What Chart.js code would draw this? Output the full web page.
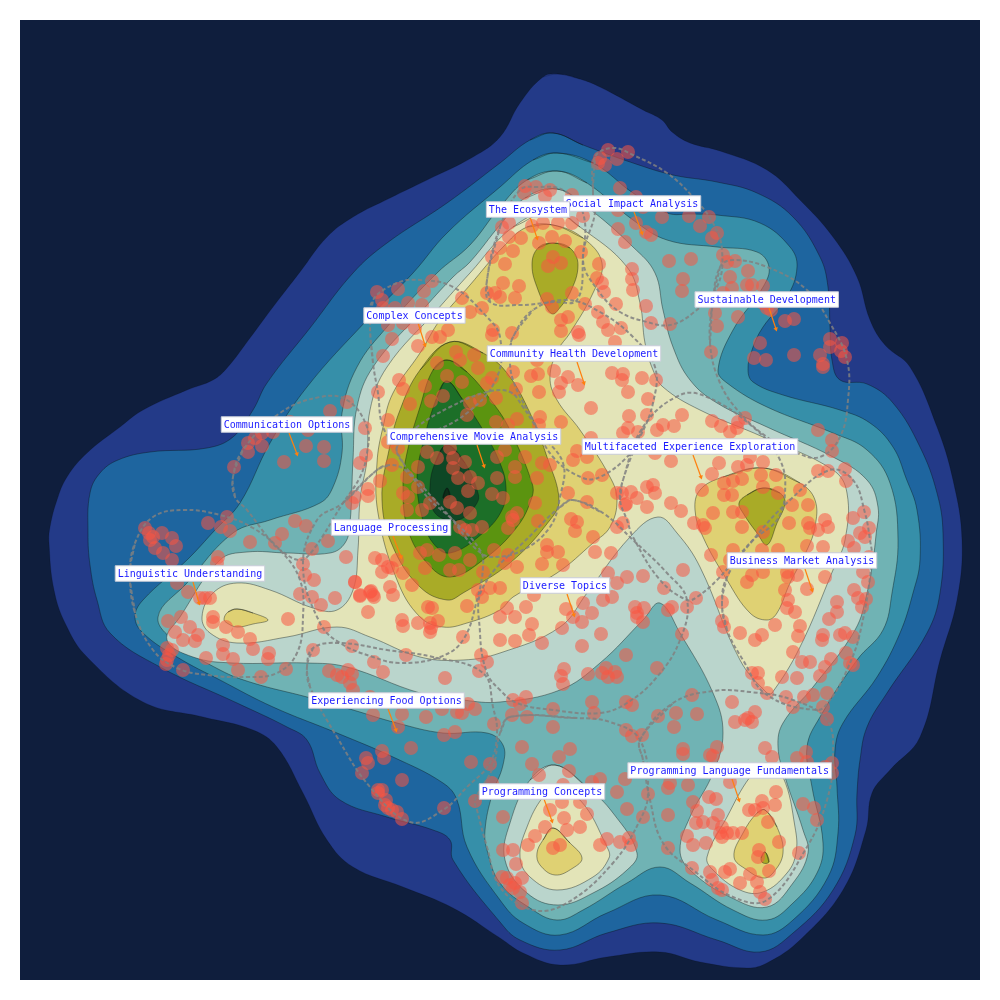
<!DOCTYPE html>
<html><head><meta charset="utf-8"><style>html,body{margin:0;padding:0;background:#fff}canvas{display:block}</style>
<script src="https://cdn.jsdelivr.net/npm/chart.js@4/dist/chart.umd.min.js"></script></head>
<body><canvas id="c" width="1000" height="1000"></canvas>
<script>
const level1=[[558,74],[580,79],[600,87],[643,110],[662,120],[672,132],[690,143],[720,151],[767,170],[800,200],[833,237],[857,277],[870,320],[885,345],[910,367],[937,427],[953,480],[962,540],[957,600],[940,660],[920,737],[890,770],[872,793],[866,830],[843,890],[800,940],[767,963],[747,968],[700,962],[660,952],[607,957],[560,965],[523,953],[500,938],[453,908],[403,887],[353,867],[327,840],[303,793],[277,747],[253,730],[203,717],[143,702],[87,657],[66,625],[54,590],[49,543],[50,527],[57,500],[67,477],[87,453],[120,427],[143,410],[187,390],[213,380],[227,368],[250,338],[273,307],[300,272],[327,237],[353,217],[390,198],[427,180],[473,157],[500,137],[520,103],[543,77],[558,74]];
const level2=[[553,133],[583,145],[633,163],[673,175],[717,182],[757,193],[793,217],[820,257],[828,287],[830,327],[832,360],[840,380],[867,384],[893,403],[920,447],[937,493],[943,533],[940,593],[927,633],[887,693],[867,727],[860,760],[857,793],[855,835],[833,890],[793,933],[760,952],[717,940],[660,923],[607,933],[560,950],[520,940],[500,922],[453,860],[450,840],[433,830],[387,817],[340,800],[320,773],[307,740],[287,727],[237,703],[160,667],[110,633],[97,600],[90,565],[88,533],[90,493],[100,473],[118,460],[150,452],[207,448],[233,437],[253,410],[267,383],[310,328],[353,273],[387,243],[447,203],[500,163],[530,140],[553,133]];
const level3=[[557,153],[593,163],[633,193],[667,213],[692,214],[717,215],[760,223],[790,247],[797,267],[787,297],[763,327],[752,350],[748,370],[753,382],[783,395],[840,410],[870,423],[893,447],[906,478],[917,510],[920,560],[913,593],[900,633],[877,677],[843,723],[835,750],[837,787],[838,833],[828,877],[793,920],[763,935],[717,920],[660,895],[607,913],[560,935],[523,923],[500,900],[467,847],[457,800],[443,783],[393,757],[337,733],[273,707],[220,680],[177,657],[143,633],[135,617],[143,600],[187,560],[215,530],[240,503],[270,443],[307,387],[367,320],[413,273],[447,233],[500,187],[533,160],[557,153]];
const level4=[[557,171],[587,183],[633,220],[667,240],[717,247],[757,252],[769,267],[763,287],[733,330],[718,370],[727,383],[767,407],[833,433],[867,450],[890,483],[898,540],[892,593],[883,630],[857,660],[820,717],[807,747],[812,787],[823,843],[817,873],[793,903],[767,920],[733,910],[690,883],[660,867],[627,883],[583,910],[557,920],[530,908],[500,883],[487,850],[485,830],[492,795],[503,765],[503,745],[487,733],[443,733],[397,723],[353,710],[307,697],[253,683],[220,670],[177,643],[158,617],[187,583],[233,533],[270,520],[320,503],[333,487],[342,453],[342,413],[357,367],[387,327],[437,273],[470,245],[500,207],[527,180],[557,171]];
const level5=[[557,189],[587,207],[633,247],[655,273],[663,310],[673,347],[690,380],[717,403],[767,427],[833,457],[867,480],[878,507],[876,535],[873,560],[867,593],[855,630],[813,687],[783,723],[778,747],[785,777],[803,830],[808,853],[793,883],[767,907],[730,897],[690,870],[680,850],[690,817],[713,773],[723,733],[713,693],[680,633],[660,603],[643,620],[600,663],[560,690],[500,702],[463,700],[420,693],[347,667],[307,663],[233,663],[193,657],[167,640],[180,617],[220,560],[247,552],[287,553],[330,553],[345,543],[350,523],[353,460],[357,407],[373,367],[420,313],[453,277],[470,262],[500,225],[525,198],[557,189]];
const level5b=[[555,765],[587,787],[613,813],[637,853],[627,870],[593,893],[558,905],[527,893],[505,860],[510,823],[530,780],[555,765]];
const level6=[[553,211],[580,227],[627,267],[640,303],[645,343],[653,370],[663,387],[700,410],[763,437],[833,470],[847,493],[845,540],[833,570],[800,647],[772,693],[767,693],[740,660],[700,567],[677,533],[658,517],[630,537],[587,593],[560,627],[500,653],[463,660],[420,657],[370,637],[337,627],[287,637],[237,643],[210,633],[202,617],[213,593],[237,583],[270,590],[313,608],[337,610],[353,590],[358,550],[360,500],[367,460],[370,410],[387,367],[437,310],[470,273],[513,227],[553,211]];
const level6b=[[555,790],[580,800],[607,847],[609,858],[593,877],[557,890],[530,877],[520,857],[527,827],[543,797],[555,790]];
const level6c=[[767,763],[783,777],[795,827],[796,853],[787,873],[763,892],[740,890],[713,870],[707,857],[727,817],[750,777],[767,763]];
const level7=[[553,225],[583,238],[602,263],[593,293],[570,333],[558,350],[550,377],[557,400],[580,430],[610,477],[617,500],[610,527],[593,543],[557,573],[513,597],[500,610],[467,623],[443,627],[420,617],[397,580],[378,513],[377,463],[383,427],[393,393],[420,353],[440,320],[470,285],[503,247],[527,227],[553,225]];
const level7b=[[763,468],[800,483],[815,500],[815,527],[807,550],[790,583],[777,613],[767,620],[750,613],[727,580],[703,537],[695,510],[700,490],[723,477],[763,468]];
const level7c=[[553,828],[570,843],[582,858],[573,868],[555,875],[540,865],[537,853],[543,840],[553,828]];
const level7d=[[765,810],[777,827],[783,853],[773,873],[763,878],[747,870],[734,857],[743,833],[757,813],[765,810]];
const level7e=[[237,609],[253,613],[268,620],[253,624],[237,627],[227,623],[224,619],[228,612],[237,609]];
const level8=[[450,342],[483,353],[507,373],[530,413],[547,457],[559,500],[550,520],[510,563],[463,593],[447,600],[420,587],[393,547],[382,500],[389,450],[400,410],[420,370],[450,342]];
const level8b=[[553,243],[570,248],[578,265],[570,293],[558,310],[553,314],[548,310],[538,290],[532,265],[538,248],[553,243]];
const level8c=[[763,488],[780,493],[785,503],[777,523],[767,545],[757,533],[743,513],[739,503],[747,495],[763,488]];
const level8d=[[765,852],[769,862],[763,863],[761,858],[765,852]];
const level9=[[447,360],[467,372],[493,403],[510,430],[532,483],[532,497],[517,527],[483,560],[450,577],[427,563],[408,530],[403,487],[407,453],[420,407],[433,370],[447,360]];
const level10=[[447,381],[463,400],[483,430],[500,463],[506,487],[502,510],[483,533],[450,553],[433,543],[422,517],[417,480],[422,447],[437,397],[447,381]];
const level11=[[447,445],[465,463],[478,493],[477,503],[463,518],[447,520],[433,510],[430,487],[435,463],[447,445]];
const level12=[[447,488],[450,497],[443,498],[447,488]];

const contourLayers=[
 [level1,'#233a88'],[level2,'#1e659f'],[level3,'#368fa9'],[level4,'#70b3b4'],[level5,'#bad5cc'],[level5b,'#bad5cc'],
 [level6,'#e3e4b8'],[level6b,'#e3e4b8'],[level6c,'#e3e4b8'],[level7,'#dfd173'],[level7b,'#dfd173'],[level7c,'#dfd173'],[level7d,'#dfd173'],[level7e,'#dfd173'],
 [level8,'#a9ab27'],[level8b,'#a9ab27'],[level8c,'#a9ab27'],[level8d,'#a9ab27'],[level9,'#5b9410'],[level10,'#1c6f28'],[level11,'#0e4725'],[level12,'#0d2d18']];

const pointsNorthWest=[[377,292],[382,300],[398,289],[432,281],[424,291],[408,303],[422,305],[395,308],[383,308],[388,325],[403,323],[415,328],[392,339],[418,346],[432,337],[440,337],[448,330],[383,356],[462,298],[470,312],[482,308],[487,293],[495,293],[492,257],[500,248],[493,330],[492,335],[378,392],[399,380],[403,389],[410,404],[388,420],[365,428],[366,455],[360,463],[347,402],[330,411],[290,422],[308,430],[273,432],[262,433],[255,438],[248,443],[262,446],[248,452],[306,446],[324,447],[284,462],[324,461],[234,467],[380,481],[368,489],[368,496],[355,497],[352,503],[392,465],[388,442],[398,448]];
const pointsCentral=[[437,363],[456,352],[460,360],[474,355],[478,368],[447,376],[462,382],[425,386],[431,401],[443,396],[487,383],[492,378],[470,403],[467,415],[480,400],[496,398],[516,389],[513,372],[531,376],[538,374],[539,392],[554,371],[568,377],[561,383],[559,392],[578,385],[591,408],[496,422],[508,425],[517,419],[540,417],[539,425],[561,422],[427,452],[437,458],[450,448],[453,458],[465,462],[453,468],[458,478],[418,467],[407,477],[418,487],[403,493],[408,497],[407,510],[422,510],[430,503],[450,502],[457,508],[468,491],[478,483],[470,477],[497,478],[492,494],[503,498],[497,457],[505,450],[515,477],[515,467],[525,457],[537,478],[542,463],[550,465],[535,503],[470,513],[465,530],[460,527],[482,527],[472,530],[517,513],[512,517],[513,520],[508,528],[538,521],[571,519],[577,522],[575,531],[568,493],[587,502],[617,493],[588,478],[602,475],[573,460],[427,550],[420,553],[439,555],[455,553],[470,560],[494,550],[508,555],[505,563],[517,567],[483,572],[459,570],[450,570],[425,568],[375,558],[382,560],[388,567],[392,568],[397,560],[382,572],[403,573],[390,587],[412,585],[393,595],[370,592],[360,595],[373,595],[355,582],[478,590],[490,588],[500,588],[482,597],[542,564],[563,565],[547,545],[547,552],[558,552],[595,552],[611,553],[617,527],[593,537],[623,523],[625,505]];
const pointsSouthCentral=[[526,607],[507,608],[515,617],[500,617],[532,624],[529,635],[515,641],[500,640],[542,643],[534,595],[603,600],[612,597],[617,583],[627,577],[643,576],[608,573],[683,570],[664,588],[696,598],[687,607],[672,607],[668,610],[635,607],[644,608],[637,613],[637,617],[643,622],[583,603],[566,609],[592,613],[582,622],[573,617],[562,628],[601,634],[582,646],[626,655],[682,634],[657,668],[564,669],[561,676],[563,684],[588,674],[602,673],[606,668],[608,677],[615,672],[617,677],[513,700],[520,704],[526,697],[553,709],[512,715],[527,717],[553,727],[592,702],[594,713],[626,702],[632,705],[658,716],[692,695],[676,713],[697,714],[674,727],[626,730],[632,736],[642,735],[522,747],[570,749],[559,757],[532,764],[539,775],[569,771],[683,749],[683,754],[710,755],[717,747],[713,756]];
const pointsProgramming=[[732,702],[755,712],[748,718],[735,722],[745,720],[752,722],[765,748],[772,757],[797,758],[806,752],[807,762],[832,763],[825,767],[832,773],[730,782],[600,779],[592,782],[625,779],[670,783],[668,788],[688,785],[617,792],[648,794],[627,809],[643,817],[668,815],[693,802],[709,797],[716,799],[697,811],[718,815],[696,823],[703,822],[713,823],[722,827],[720,833],[727,833],[733,833],[742,833],[722,837],[687,836],[693,845],[706,843],[668,848],[749,810],[762,801],[776,792],[763,808],[755,810],[775,805],[768,822],[803,804],[814,808],[817,820],[779,842],[759,850],[758,857],[799,853],[769,871],[750,874],[730,869],[725,872],[740,883],[757,882],[760,892],[765,899],[692,868],[710,872],[712,880],[718,888],[722,890],[563,785],[562,802],[580,802],[550,810],[587,814],[564,818],[545,827],[580,827],[567,830],[535,836],[560,845],[553,848],[528,845],[600,845],[607,839],[620,842],[629,838],[631,845],[513,850],[503,850],[516,864],[503,817],[522,878],[507,878],[515,883],[520,892],[513,888],[522,903],[502,877],[510,885]];
const pointsNorthEast=[[608,150],[628,152],[600,158],[598,163],[605,165],[617,159],[620,188],[636,197],[643,207],[618,210],[662,217],[689,216],[709,217],[700,226],[717,233],[712,238],[636,223],[646,232],[651,235],[618,229],[625,242],[669,261],[691,259],[723,255],[727,262],[735,261],[748,271],[730,277],[683,279],[682,291],[732,288],[747,285],[752,285],[763,286],[723,293],[715,313],[717,326],[738,317],[763,303],[767,308],[771,310],[785,321],[794,319],[760,343],[711,352],[754,358],[766,360],[794,355],[820,355],[830,339],[842,343],[830,347],[841,351],[845,357],[823,364],[823,367]];
const pointsEastEdge=[[818,430],[832,440],[832,451],[818,471],[828,471],[845,469],[846,481],[864,512],[853,518],[869,528],[860,533],[865,537],[848,541],[854,548],[869,557],[863,572],[868,582],[854,590],[837,602],[837,612],[829,619],[858,598],[866,599],[862,607],[823,635],[822,640],[840,635],[845,633],[853,637],[846,653],[831,659],[850,663],[853,665],[825,667],[820,676],[827,693],[813,695],[804,697],[793,707],[823,707],[827,719],[786,697],[767,693],[797,678],[782,677],[752,673],[758,673],[758,683],[793,652],[802,662],[810,662],[800,626],[798,636],[775,625],[762,635],[755,640],[740,633],[722,621],[724,627],[722,602]];
const pointsBusiness=[[713,513],[733,512],[742,512],[742,527],[763,532],[762,550],[778,550],[711,555],[733,550],[730,560],[723,572],[752,575],[763,572],[747,582],[787,572],[788,577],[797,575],[785,590],[807,589],[825,577],[788,600],[787,608],[795,612],[823,547],[808,523],[810,528],[818,530],[825,520],[828,527],[807,546],[789,523],[808,505],[792,505]];
const pointsMultifaceted=[[612,373],[623,374],[622,380],[642,378],[656,380],[628,392],[648,399],[629,416],[647,415],[682,415],[712,421],[721,426],[730,432],[738,422],[745,418],[737,428],[628,428],[623,433],[638,432],[657,430],[663,425],[674,426],[591,438],[655,453],[671,461],[719,463],[712,474],[738,467],[747,465],[750,457],[763,462],[761,475],[776,475],[724,483],[733,481],[742,479],[763,487],[778,493],[800,490],[702,490],[724,495],[732,495],[577,451],[587,457],[622,493],[631,492],[637,498],[647,487],[653,485],[655,493],[626,504],[647,507],[671,503],[681,511],[694,523],[703,525],[705,528]];
const pointsEcosystem=[[537,360],[512,333],[561,331],[578,332],[579,335],[568,317],[561,320],[598,312],[603,322],[608,330],[621,328],[615,342],[585,304],[604,292],[597,278],[602,283],[599,264],[581,252],[572,293],[616,304],[632,269],[632,279],[633,290],[646,306],[651,323],[670,324],[547,299],[519,286],[515,298],[503,283],[500,297],[553,257],[548,266],[561,263],[552,307],[539,243],[552,237],[565,241],[521,238],[513,251],[505,264],[525,186],[536,187],[550,190],[524,193],[545,196],[572,195],[583,216],[572,223],[558,223],[543,223],[532,226],[509,223],[509,237],[502,227]];
const pointsWest=[[145,528],[149,533],[153,537],[150,540],[162,533],[172,538],[176,546],[155,548],[163,553],[172,560],[177,583],[188,592],[200,598],[210,598],[205,598],[208,523],[221,527],[227,517],[230,531],[250,542],[282,534],[295,521],[306,526],[275,543],[312,549],[328,541],[303,564],[305,575],[314,580],[346,557],[355,582],[218,557],[217,563],[300,594],[312,597],[321,605],[335,598],[360,596],[371,591],[374,597],[368,612],[428,607],[432,608],[467,606],[402,620],[403,626],[418,623],[430,623],[438,621],[431,628],[430,632],[463,637],[481,655],[487,662],[479,671],[445,678],[406,655],[213,617],[213,622],[226,627],[238,632],[250,639],[253,649],[288,619],[324,627],[168,621],[181,617],[190,627],[198,635],[175,632],[183,640],[195,641],[223,645],[223,654],[233,659],[238,670],[206,658],[269,653],[268,659],[261,677],[286,669],[313,650],[352,646],[374,662],[383,672],[167,648],[172,650],[169,655],[167,660],[166,664],[183,670]];
const pointsSouthWest=[[329,671],[337,675],[342,677],[348,670],[352,674],[350,683],[353,690],[370,697],[373,715],[402,714],[398,727],[426,717],[442,709],[457,712],[462,713],[468,704],[475,709],[444,735],[455,732],[494,724],[411,748],[382,751],[384,758],[366,758],[368,763],[362,773],[402,780],[471,762],[490,764],[492,783],[444,808],[475,801],[378,790],[382,790],[378,793],[386,800],[385,805],[388,808],[392,810],[397,812],[402,819]];
const pointGroups=[pointsNorthWest,pointsCentral,pointsSouthCentral,pointsProgramming,pointsNorthEast,pointsEastEdge,pointsBusiness,pointsMultifaceted,pointsEcosystem,pointsWest,pointsSouthWest];

const hullLinguistic=[[130,573],[135,543],[153,517],[183,510],[220,515],[253,528],[280,550],[300,580],[303,617],[297,653],[277,673],[247,677],[207,675],[177,668],[153,650],[135,613],[130,573]];
const hullCommunication=[[233,477],[243,450],[280,413],[320,397],[347,400],[367,427],[367,453],[360,477],[343,503],[313,550],[300,560],[280,550],[270,540],[247,510],[235,497],[233,477]];
const hullFood=[[307,667],[313,648],[340,643],[387,650],[433,657],[483,673],[493,707],[497,733],[490,763],[467,787],[443,810],[410,822],[370,787],[337,737],[310,687],[307,667]];
const hullLanguage=[[377,470],[390,465],[405,470],[430,500],[453,520],[480,550],[483,567],[477,600],[463,640],[440,657],[400,663],[373,657],[340,643],[320,623],[303,567],[317,520],[343,503],[377,470]];
const hullMovie=[[397,447],[417,427],[450,407],[487,392],[510,392],[523,407],[540,433],[563,463],[560,497],[550,527],[523,550],[493,557],[477,550],[450,517],[423,487],[403,463],[397,447]];
const hullCommunity=[[513,337],[533,310],[567,300],[600,312],[633,337],[655,367],[653,403],[640,437],[627,457],[600,477],[583,478],[553,457],[533,420],[513,380],[510,353],[513,337]];
const hullComplex=[[370,323],[373,300],[397,283],[420,280],[453,287],[487,317],[500,337],[497,377],[467,413],[420,437],[397,443],[383,427],[378,393],[373,363],[370,323]];
const hullEcosystem=[[487,280],[500,227],[520,190],[537,187],[563,190],[583,213],[583,257],[577,300],[553,302],[520,305],[490,302],[487,280]];
const hullSocial=[[593,193],[595,157],[613,148],[633,155],[667,173],[693,197],[713,223],[722,250],[717,287],[693,313],[670,325],[647,322],[620,312],[600,293],[583,260],[595,213],[593,193]];
const hullSustainable=[[713,300],[720,267],[733,260],[767,267],[807,290],[830,323],[847,360],[848,400],[840,437],[820,457],[797,453],[767,437],[740,413],[720,383],[710,343],[713,300]];
const hullMultifaceted=[[623,480],[643,427],[680,395],[707,397],[753,427],[780,460],[785,493],[777,520],[753,540],[717,580],[697,597],[687,600],[660,580],[633,537],[627,520],[620,500],[623,480]];
const hullBusiness=[[722,603],[727,577],[753,540],[790,500],[830,470],[853,480],[865,513],[870,540],[872,560],[860,633],[847,670],[830,700],[817,710],[767,695],[743,660],[727,630],[722,603]];
const hullDiverse=[[573,500],[603,513],[633,540],[667,573],[687,600],[680,640],[657,677],[627,703],[600,713],[553,710],[517,703],[500,690],[487,673],[480,633],[483,587],[533,533],[560,507],[573,500]];
const hullLanguageFund=[[640,740],[673,703],[713,691],[750,692],[793,700],[827,720],[833,757],[827,800],[807,847],[767,900],[733,897],[693,870],[663,843],[650,800],[643,760],[640,740]];
const hullProgramming=[[510,717],[577,718],[610,722],[640,740],[648,793],[640,820],[613,863],[567,903],[533,910],[500,887],[487,847],[477,810],[475,800],[493,767],[500,733],[510,717]];
const hulls=[hullLinguistic,hullCommunication,hullFood,hullLanguage,hullMovie,hullCommunity,hullComplex,hullEcosystem,hullSocial,hullSustainable,hullMultifaceted,hullBusiness,hullDiverse,hullLanguageFund,hullProgramming];

const labelTexts=['Social Impact Analysis','The Ecosystem','Sustainable Development','Complex Concepts','Community Health Development','Communication Options','Comprehensive Movie Analysis','Multifaceted Experience Exploration','Language Processing','Diverse Topics','Business Market Analysis','Linguistic Understanding','Experiencing Food Options','Programming Concepts','Programming Language Fundamentals'];
const labelCenters=[[632,203.5],[528,209.5],[766.7,299.5],[414.5,315.5],[574,353.5],[287,424.5],[474,436.5],[690,446.5],[391,527.5],[565,585.5],[802,560.5],[190,573.5],[386.5,700.5],[542,791.5],[729.7,770.5]];
const arrowStarts=[[634,212],[530,217],[769,308],[418,323],[577,362],[289,433],[477,445],[693,455],[393,536],[567,594],[805,569],[193,582],[388,709],[544,799],[732,779]];
const arrowEnds=[[642,233],[537,238],[776,329],[425,345],[584,383],[297,454],[484,466],[701,477],[401,557],[574,615],[812,590],[199,603],[396,730],[552,821],[739,800]];

const toXY=a=>a.map(p=>({x:p[0],y:p[1]}));
// a closed outline is drawn with one point of overlap at each end, so the curve has no corner where it closes
const closedXY=a=>toXY([a[a.length-2],...a,a[1]]);
const datasets=[];
contourLayers.forEach(([poly,color],i)=>datasets.push({data:closedXY(poly),showLine:true,tension:0.4,fill:'shape',backgroundColor:color,
  borderColor:i===0?'rgba(0,0,0,0.2)':'rgba(10,20,20,0.5)',borderWidth:0.8,pointRadius:0}));
pointGroups.forEach(g=>datasets.push({data:toXY(g),showLine:false,pointRadius:7,pointBackgroundColor:'rgba(250,85,65,0.55)',pointBorderWidth:0}));
hulls.forEach(h=>datasets.push({data:closedXY(h),showLine:true,tension:0.4,fill:false,borderColor:'rgba(128,128,128,0.85)',borderWidth:2,borderDash:[4,2.4],pointRadius:0}));
arrowStarts.forEach((s,i)=>datasets.push({data:toXY([s,arrowEnds[i]]),showLine:true,borderColor:'#ff7f0e',borderWidth:1.2,
  pointRadius:[0,2.6],pointStyle:'triangle',pointRotation:162,pointBackgroundColor:'#ff7f0e',pointBorderWidth:0}));
datasets.forEach((d,i)=>d.order=datasets.length-i);

const backdrop={id:'backdrop',beforeDraw(ch){const a=ch.chartArea,c=ch.ctx;c.save();c.fillStyle='#0f1e3d';c.fillRect(a.left,a.top,a.width,a.height);c.restore();}};
const tagLabels={id:'tagLabels',afterDatasetsDraw(ch){const c=ch.ctx,X=ch.scales.x,Y=ch.scales.y;c.save();
  c.font='10px "DejaVu Sans Mono"';c.textAlign='center';c.textBaseline='middle';
  labelTexts.forEach((t,i)=>{const x=X.getPixelForValue(labelCenters[i][0]),y=Y.getPixelForValue(labelCenters[i][1]);
    const w=c.measureText(t).width+5,h=15.5;
    c.fillStyle='#fff';c.strokeStyle='#c8ccd8';c.lineWidth=1;
    c.beginPath();c.rect(x-w/2,y-h/2,w,h);c.fill();c.stroke();
    c.fillStyle='#1a1aff';c.fillText(t,x,y+0.5);});
  c.restore();}};

new Chart(document.getElementById('c'),{type:'scatter',data:{datasets},plugins:[backdrop,tagLabels],
 options:{responsive:false,animation:false,layout:{padding:20},
  plugins:{legend:{display:false},tooltip:{enabled:false}},
  elements:{line:{capBezierPoints:false}},
  scales:{x:{type:'linear',min:20,max:980,display:false},y:{type:'linear',min:20,max:980,reverse:true,display:false}}}});
</script></body></html>
